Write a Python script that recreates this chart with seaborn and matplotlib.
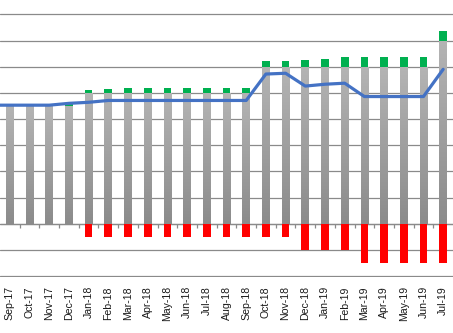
import numpy as np
import pandas as pd
import matplotlib
matplotlib.use("Agg")
import matplotlib.pyplot as plt
from matplotlib.colors import LinearSegmentedColormap
import seaborn as sns

months = ["Sep-17", "Oct-17", "Nov-17", "Dec-17",
          "Jan-18", "Feb-18", "Mar-18", "Apr-18", "May-18", "Jun-18",
          "Jul-18", "Aug-18", "Sep-18", "Oct-18", "Nov-18", "Dec-18",
          "Jan-19", "Feb-19", "Mar-19", "Apr-19", "May-19", "Jun-19", "Jul-19"]
base = [4.5, 4.5, 4.5, 4.5,
        5.0, 5.0, 5.0, 5.0, 5.0, 5.0, 5.0, 5.0, 5.0, 6.0, 6.0, 6.0,
        6.0, 6.0, 6.0, 6.0, 6.0, 6.0, 7.0]
upside = [0.0, 0.0, 0.0, 0.1,
          0.1, 0.13, 0.18, 0.18, 0.18, 0.18, 0.18, 0.18, 0.18, 0.22, 0.22, 0.26,
          0.3, 0.37, 0.37, 0.37, 0.37, 0.37, 0.35]
downside = [0.0, 0.0, 0.0, 0.0,
            -0.5, -0.5, -0.5, -0.5, -0.5, -0.5, -0.5, -0.5, -0.5, -0.5, -0.5, -1.0,
            -1.0, -1.0, -1.5, -1.5, -1.5, -1.5, -1.5]
actual = [4.53, 4.53, 4.53, 4.6,
          4.64, 4.71, 4.71, 4.71, 4.71, 4.71, 4.71, 4.71, 4.71, 5.72, 5.75, 5.26,
          5.33, 5.37, 4.86, 4.86, 4.86, 4.86, 5.9]
# the series runs in from the previous month, just left of the visible range
actual_prev = 4.53

df = pd.DataFrame({"month": months, "base": base, "up": upside,
                   "down": downside, "actual": actual})
df["pos"] = np.arange(len(df))
line_df = pd.DataFrame({"pos": np.arange(-1, len(df)),
                        "actual": [actual_prev] + actual})

sns.set_theme(style="white")
plt.rcParams["font.family"] = ["Liberation Sans", "DejaVu Sans"]

W, H = 453, 333
fig = plt.figure(figsize=(W / 100, H / 100), dpi=100)
ymin, ymax = -2.03, 8.55
ax = fig.add_axes([0, 56.2 / H, 1, 1 - 56.2 / H])

grid_col = "#8a8a8a"
bar_w = 0.39

# grey base bars, later given a vertical gradient
n0 = len(ax.patches)
sns.barplot(data=df, x="month", y="base", color="#a0a0a0", width=bar_w,
            saturation=1, ax=ax, zorder=2, linewidth=0)
grey_patches = ax.patches[n0:]

# green increment stacked on top of the base
sns.barplot(data=df, x="month", y="up", bottom=df["base"].to_numpy(),
            color="#00B050", width=bar_w, saturation=1, ax=ax, zorder=2,
            linewidth=0)
# red negative bars below zero
sns.barplot(data=df, x="month", y="down", color="#FF0000", width=bar_w,
            saturation=1, ax=ax, zorder=2, linewidth=0)

cmap = LinearSegmentedColormap.from_list("greyfade", ["#8b8b8b", "#b4b4b4"])
grad = np.linspace(0, 1, 256).reshape(-1, 1)
for p in grey_patches:
    x0, y0, w, h = p.get_x(), p.get_y(), p.get_width(), p.get_height()
    im = ax.imshow(grad, cmap=cmap, origin="lower", aspect="auto",
                   extent=[x0, x0 + w, y0, y0 + h], zorder=2,
                   interpolation="bilinear")
    im.set_clip_path(p)
    p.set_facecolor("none")

sns.lineplot(data=line_df, x="pos", y="actual", color="#4472C4",
             linewidth=2.3, sort=False, ax=ax, zorder=4)

# category-boundary ticks along the zero line
ax.axhline(0, color=grid_col, linewidth=0.9, zorder=1)
ax.vlines(df["pos"].to_numpy()[:-1] + 0.5, 0, -0.15, color=grid_col,
          linewidth=0.9, zorder=1)

ax.set_xlim(-0.5, len(df) - 0.5)
ax.set_ylim(ymin, ymax)
ax.set_yticks(np.arange(-2, 9))
ax.yaxis.grid(True, color=grid_col, linewidth=0.9, zorder=0)
ax.set_axisbelow(True)
ax.tick_params(axis="y", length=0, labelleft=False)
ax.set_xticks(df["pos"])
ax.set_xticklabels(months, rotation=90, fontsize=7.6, color="#1a1a1a")
ax.tick_params(axis="x", length=0, pad=6.8)
ax.set_xlabel("")
ax.set_ylabel("")
for s in ax.spines.values():
    s.set_visible(False)

fig.savefig("out.png", dpi=100)
